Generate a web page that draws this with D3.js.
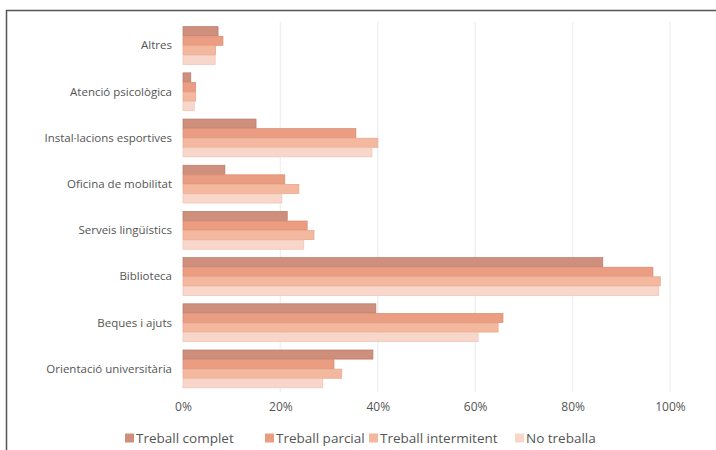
<!DOCTYPE html>
<html>
<head>
<meta charset="utf-8">
<script src="https://d3js.org/d3.v7.min.js"></script>
<style>
body { margin: 0; background: #fff; }
svg { display: block; font-family: "Open Sans", sans-serif; }
</style>
</head>
<body>
<svg width="716" height="450"></svg>
<script>

let categories = ["Altres", "Atenció psicològica", "Instal·lacions esportives", "Oficina de mobilitat",
  "Serveis lingüístics", "Biblioteca", "Beques i ajuts", "Orientació universitària"];
let seriesNames = ["Treball complet", "Treball parcial", "Treball intermitent", "No treballa"];
let seriesColors = ["#cf8f7d", "#eb9d82", "#f4b89f", "#f9d6ca"];
let seriesStroke = ["#b97866", "#d88a70", "#e6a48b", "#eec3b5"];

let complet     = [7.2, 1.6, 15.0,  8.6, 21.4, 86.2, 39.6, 39.0];
let parcial     = [8.2, 2.6, 35.5, 20.9, 25.5, 96.5, 65.7, 31.0];
let intermitent = [6.7, 2.6, 40.0, 23.8, 26.9, 98.0, 64.7, 32.6];
let noTreballa  = [6.6, 2.3, 38.8, 20.3, 24.8, 97.7, 60.6, 28.7];
let tickValues = [0, 20, 40, 60, 80, 100];

let allSeries = [complet, parcial, intermitent, noTreballa];

let svg = d3.select("svg");

// frame
svg.append("rect")
  .attr("x", 6.5).attr("y", 10.5)
  .attr("width", 720).attr("height", 460)
  .attr("fill", "none")
  .attr("stroke", "#555")
  .attr("stroke-width", 1.5);

let x = d3.scaleLinear().domain([0, 100]).range([183, 670]);
let y = d3.scaleBand().domain(categories).range([22, 392]).paddingInner(0.17).paddingOuter(0.09);
let y2 = d3.scaleBand().domain(d3.range(4)).range([0, y.bandwidth()]);

// grid
svg.append("g").selectAll("line")
  .data(tickValues.slice(1))
  .enter().append("line")
  .attr("x1", d => x(d)).attr("x2", d => x(d))
  .attr("y1", 22).attr("y2", 392)
  .attr("stroke", "#f0f0f0")
  .attr("stroke-width", 1.5);

// bars
let groups = svg.append("g").selectAll("g")
  .data(categories)
  .enter().append("g")
  .attr("transform", d => "translate(0," + y(d) + ")");

groups.selectAll("rect")
  .data((d, i) => allSeries.map((s, k) => ({k: k, v: s[i]})))
  .enter().append("rect")
  .attr("x", x(0))
  .attr("y", d => y2(d.k) + 0.5)
  .attr("width", d => x(d.v) - x(0))
  .attr("height", y2.bandwidth() - 0.5)
  .attr("fill", d => seriesColors[d.k])
  .attr("stroke", d => seriesStroke[d.k])
  .attr("stroke-width", 0.7);

// category labels
svg.append("g").selectAll("text")
  .data(categories)
  .enter().append("text")
  .attr("x", 172)
  .attr("y", d => y(d) + y.bandwidth() / 2)
  .attr("dy", "0.35em")
  .attr("text-anchor", "end")
  .attr("font-size", 11.5)
  .attr("fill", "#555")
  .text(d => d);

// x axis labels
let xAxis = d3.axisBottom(x).tickValues(tickValues).tickFormat(d => d + "%").tickSize(0).tickPadding(0);
let ax = svg.append("g").attr("transform", "translate(0,402)").call(xAxis);
ax.select(".domain").remove();
ax.selectAll("text").attr("font-size", 12).attr("fill", "#555").attr("font-family", "Open Sans, sans-serif");

// legend
let legendX = [125, 265, 369, 515];
let legend = svg.append("g").selectAll("g")
  .data(seriesNames)
  .enter().append("g")
  .attr("transform", (d, i) => "translate(" + legendX[i] + ",438)");
legend.append("rect")
  .attr("x", 0).attr("y", -4.5)
  .attr("width", 9).attr("height", 9)
  .attr("fill", (d, i) => seriesColors[i]);
legend.append("text")
  .attr("x", 11)
  .attr("dy", "0.35em")
  .attr("font-size", 13.5)
  .attr("fill", "#555")
  .text(d => d);

</script>
</body>
</html>
